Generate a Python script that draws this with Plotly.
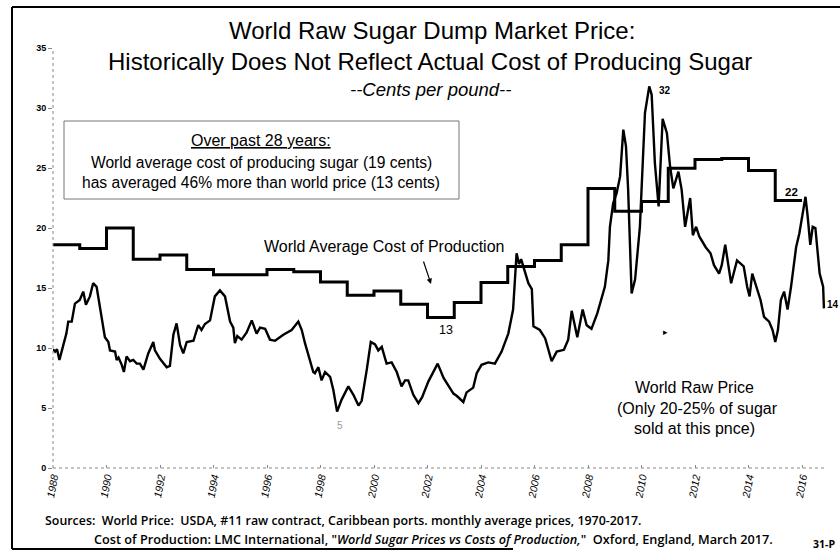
import plotly.graph_objects as go

# ---- data ----
cost_years = [1988, 1989, 1990, 1991, 1992, 1993, 1994, 1995, 1996, 1997, 1998, 1999,
              2000, 2001, 2002, 2003, 2004, 2005, 2006, 2007, 2008, 2009, 2010, 2011,
              2012, 2013, 2014, 2015, 2016]
cost_values = [18.6, 18.3, 20.0, 17.4, 17.75, 16.55, 16.1, 16.1, 16.55, 16.35, 15.5, 14.4,
               14.75, 13.65, 12.55, 13.8, 15.45, 16.8, 17.3, 18.6, 23.3, 21.4, 22.2, 24.97,
               25.7, 25.8, 24.8, 22.3, 22.3]

price_dates = [
    1988.00, 1988.08, 1988.15, 1988.24, 1988.38, 1988.50, 1988.57, 1988.70, 1988.82, 1989.00,
    1989.13, 1989.23, 1989.38, 1989.50, 1989.63, 1989.76, 1989.82, 1989.94, 1990.07, 1990.13,
    1990.32, 1990.38, 1990.45, 1990.57, 1990.65, 1990.75, 1990.88, 1991.00, 1991.13, 1991.25,
    1991.38, 1991.56, 1991.75, 1991.81, 1992.00, 1992.25, 1992.37, 1992.50, 1992.62, 1992.75,
    1992.87, 1993.00, 1993.25, 1993.43, 1993.55, 1993.68, 1993.87, 1994.05, 1994.24, 1994.43,
    1994.62, 1994.74, 1994.80, 1994.89, 1995.05, 1995.24, 1995.43, 1995.61, 1995.74, 1995.93,
    1996.11, 1996.30, 1996.61, 1996.92, 1997.17, 1997.30, 1997.42, 1997.61, 1997.73, 1997.79,
    1997.92, 1998.04, 1998.17, 1998.36, 1998.48, 1998.62, 1998.79, 1999.04, 1999.23, 1999.42,
    1999.54, 1999.73, 1999.88, 2000.04, 2000.16, 2000.29, 2000.47, 2000.66, 2000.85, 2001.03,
    2001.16, 2001.28, 2001.47, 2001.66, 2001.80, 2002.03, 2002.38, 2002.60, 2002.97, 2003.10,
    2003.34, 2003.46, 2003.71, 2003.84, 2004.02, 2004.27, 2004.52, 2004.77, 2005.02, 2005.20,
    2005.33, 2005.42, 2005.50, 2005.77, 2005.90, 2005.96, 2006.20, 2006.40, 2006.64, 2006.83,
    2007.10, 2007.26, 2007.39, 2007.60, 2007.80, 2007.95, 2008.13, 2008.35, 2008.50, 2008.63,
    2008.76, 2008.82, 2008.94, 2009.07, 2009.20, 2009.32, 2009.42, 2009.50, 2009.63, 2009.76,
    2009.94, 2010.13, 2010.29, 2010.38, 2010.50, 2010.64, 2010.79, 2010.95, 2011.07, 2011.19,
    2011.38, 2011.50, 2011.63, 2011.82, 2011.92, 2012.04, 2012.16, 2012.40, 2012.58, 2012.71,
    2012.90, 2013.00, 2013.13, 2013.25, 2013.35, 2013.57, 2013.82, 2013.95, 2014.04, 2014.14,
    2014.33, 2014.45, 2014.58, 2014.77, 2014.90, 2015.00, 2015.10, 2015.21, 2015.33, 2015.46,
    2015.59, 2015.78, 2015.90, 2016.00, 2016.13, 2016.21, 2016.31, 2016.40, 2016.50, 2016.66,
    2016.79, 2016.82]
price_values = [
    9.9, 9.7, 9.9, 9.0, 10.2, 11.2, 12.2, 12.2, 13.7, 14.0,
    14.7, 13.6, 14.3, 15.4, 15.1, 13.2, 12.3, 10.9, 10.5, 9.8,
    9.7, 9.0, 9.2, 8.6, 8.0, 9.3, 8.9, 9.0, 8.7, 8.7,
    8.2, 9.55, 10.5, 9.8, 9.1, 8.4, 8.5, 11.1, 12.05, 10.25,
    9.55, 10.5, 10.6, 11.9, 11.5, 12.0, 12.3, 14.3, 14.8, 14.3,
    12.2, 11.7, 10.4, 11.0, 10.7, 11.3, 12.3, 11.2, 11.7, 11.6,
    10.7, 10.6, 11.1, 11.5, 12.2, 11.5, 10.4, 9.0, 8.0, 7.9,
    8.4, 7.3, 8.0, 7.6, 6.5, 4.7, 5.7, 6.8, 6.1, 5.2,
    5.6, 8.2, 10.5, 10.3, 9.8, 10.1, 8.7, 8.8, 8.0, 6.8,
    7.3, 7.3, 6.1, 5.4, 5.9, 7.2, 8.7, 7.5, 6.2, 6.0,
    5.5, 6.3, 6.7, 7.9, 8.6, 8.8, 8.7, 9.7, 11.2, 13.2,
    17.9, 17.0, 17.4, 15.4, 14.9, 11.8, 11.5, 10.8, 8.9, 9.7,
    9.85, 10.7, 13.1, 10.9, 13.2, 11.9, 11.6, 12.9, 14.0, 15.1,
    17.3, 20.1, 22.05, 22.9, 24.3, 28.2, 26.8, 23.2, 14.55, 15.7,
    20.1, 29.6, 31.8, 31.1, 25.4, 21.8, 29.1, 27.9, 25.1, 23.3,
    24.7, 23.2, 20.1, 22.5, 19.4, 20.1, 19.3, 18.4, 17.9, 16.9,
    16.2, 16.9, 18.6, 17.05, 15.4, 17.3, 16.8, 15.1, 14.3, 16.2,
    14.8, 14.0, 12.6, 12.2, 11.5, 10.5, 11.5, 14.0, 14.7, 13.2,
    15.1, 18.4, 19.55, 20.8, 22.6, 21.0, 18.6, 20.1, 20.0, 16.2,
    15.1, 13.3]

x_tick_years = list(range(1988, 2017, 2))
y_ticks = [0, 5, 10, 15, 20, 25, 30, 35]

# ---- layout geometry (page pixels; body margin removed by post_script) ----
W, H = 840, 552
PLOT_L, PLOT_R, PLOT_T, PLOT_B = 53, 834, 48, 468
L, T = PLOT_L, PLOT_T
R, B = W - PLOT_R, H - PLOT_B
PW, PH = PLOT_R - PLOT_L, PLOT_B - PLOT_T
X0, X1 = 1988, 1988 + PW / 26.75


def px(x):
    return (x - PLOT_L) / PW


def py(y):
    return (PLOT_B - y) / PH


FONT = "Liberation Sans, Arial, sans-serif"

fig = go.Figure()
fig.add_trace(go.Scatter(x=cost_years, y=cost_values, mode="lines", line_shape="hv",
                         line=dict(color="black", width=3), hoverinfo="skip"))
fig.add_trace(go.Scatter(x=price_dates, y=price_values, mode="lines",
                         line=dict(color="black", width=2.4), hoverinfo="skip"))

ann = []


def text(x, y, s, size, **kw):
    d = dict(x=px(x), y=py(y), xref="paper", yref="paper", text=s, showarrow=False,
             font=dict(family=kw.pop("family", FONT), size=size, color=kw.pop("color", "black"),
                       weight=kw.pop("weight", "normal")),
             xanchor=kw.pop("xanchor", "center"), yanchor=kw.pop("yanchor", "middle"))
    d.update(kw)
    ann.append(d)


text(432, 31, "World Raw Sugar Dump Market Price:", 24)
text(430, 61, "Historically Does Not Reflect Actual Cost of Producing Sugar", 24)
text(430, 89, "<i>--Cents per pound--</i>", 18.5)

text(261, 140, "<u>Over past 28 years:</u>", 16)
text(261, 162, "World average cost of producing sugar (19 cents)", 15.6)
text(261, 182, "has averaged 46% more than world price (13 cents)", 15.6)

text(384, 246, "World Average Cost of Production", 16)
text(694, 387, "World Raw Price", 16)
text(697, 408, "(Only 20-25% of sugar", 16)
text(694, 428, "sold at this pnce)", 16)

text(665, 90, "<b>32</b>", 10)
text(791, 192, "<b>22</b>", 11.5)
text(833, 304, "<b>14</b>", 10)
text(446, 330, "13", 12.5)
text(340, 425, "5", 10, color="#9a9a9a")
text(665, 332, "▸", 9)

SRC_FONT = "Open Sans, Noto Sans, sans-serif"
text(43, 520, "Sources:  World Price:  USDA, #11 raw contract, Caribbean ports. monthly average prices, 1970-2017.",
     12.4, family=SRC_FONT, xanchor="left", weight=600)
text(92, 539, "Cost of Production: LMC International, \"<i>World Sugar Prices vs Costs of Production,</i>\"  Oxford, England, March 2017.",
     12.7, family=SRC_FONT, xanchor="left", weight=600)
text(824, 544, "<b>31-P</b>", 10.5, family=SRC_FONT)

# arrow
ann.append(dict(x=px(431), y=py(284), xref="paper", yref="paper", text="", showarrow=True,
                ax=-8, ay=-24, arrowhead=2, arrowsize=0.9, arrowwidth=1.2, arrowcolor="black"))

shapes = [
    # info box
    dict(type="rect", xref="paper", yref="paper", x0=px(64), x1=px(459), y0=py(121), y1=py(199),
         line=dict(color="#777777", width=1)),
    # outer frame
    dict(type="line", xref="paper", yref="paper", x0=px(12), x1=px(12), y0=py(7), y1=py(549),
         line=dict(color="black", width=2)),
    dict(type="line", xref="paper", yref="paper", x0=px(12), x1=px(845), y0=py(7), y1=py(7),
         line=dict(color="black", width=2)),
    dict(type="line", xref="paper", yref="paper", x0=px(12), x1=px(513), y0=py(549), y1=py(549),
         line=dict(color="black", width=2)),
    # dotted axis lines
    dict(type="line", xref="paper", yref="paper", x0=0, x1=0, y0=0, y1=1,
         line=dict(color="#888888", width=1, dash="dot")),
    dict(type="line", xref="paper", yref="paper", x0=0, x1=px(824), y0=0, y1=0,
         line=dict(color="#888888", width=1, dash="dot")),
]

fig.update_layout(
    width=W, height=H, margin=dict(l=L, r=R, t=T, b=B),
    paper_bgcolor="white", plot_bgcolor="white", showlegend=False,
    annotations=ann, shapes=shapes,
    xaxis=dict(range=[X0, X1], tickvals=x_tick_years, ticktext=[str(v) for v in x_tick_years],
               tickangle=-80, showgrid=False, zeroline=False, showline=False,
               ticks="inside", ticklen=3, tickcolor="#888888",
               tickfont=dict(family="Liberation Sans Narrow, Liberation Sans, sans-serif",
                             size=10.5, color="black", style="italic")),
    yaxis=dict(range=[0, 35], tickvals=y_ticks, showgrid=False, zeroline=False, showline=False,
               ticks="outside", ticklen=4, tickcolor="#888888",
               tickfont=dict(family=FONT, size=9, color="black", weight="bold")),
)

fig.write_html("out.html", config={"displayModeBar": False},
               post_script="document.body.style.margin='0';document.body.style.overflow='hidden';")
